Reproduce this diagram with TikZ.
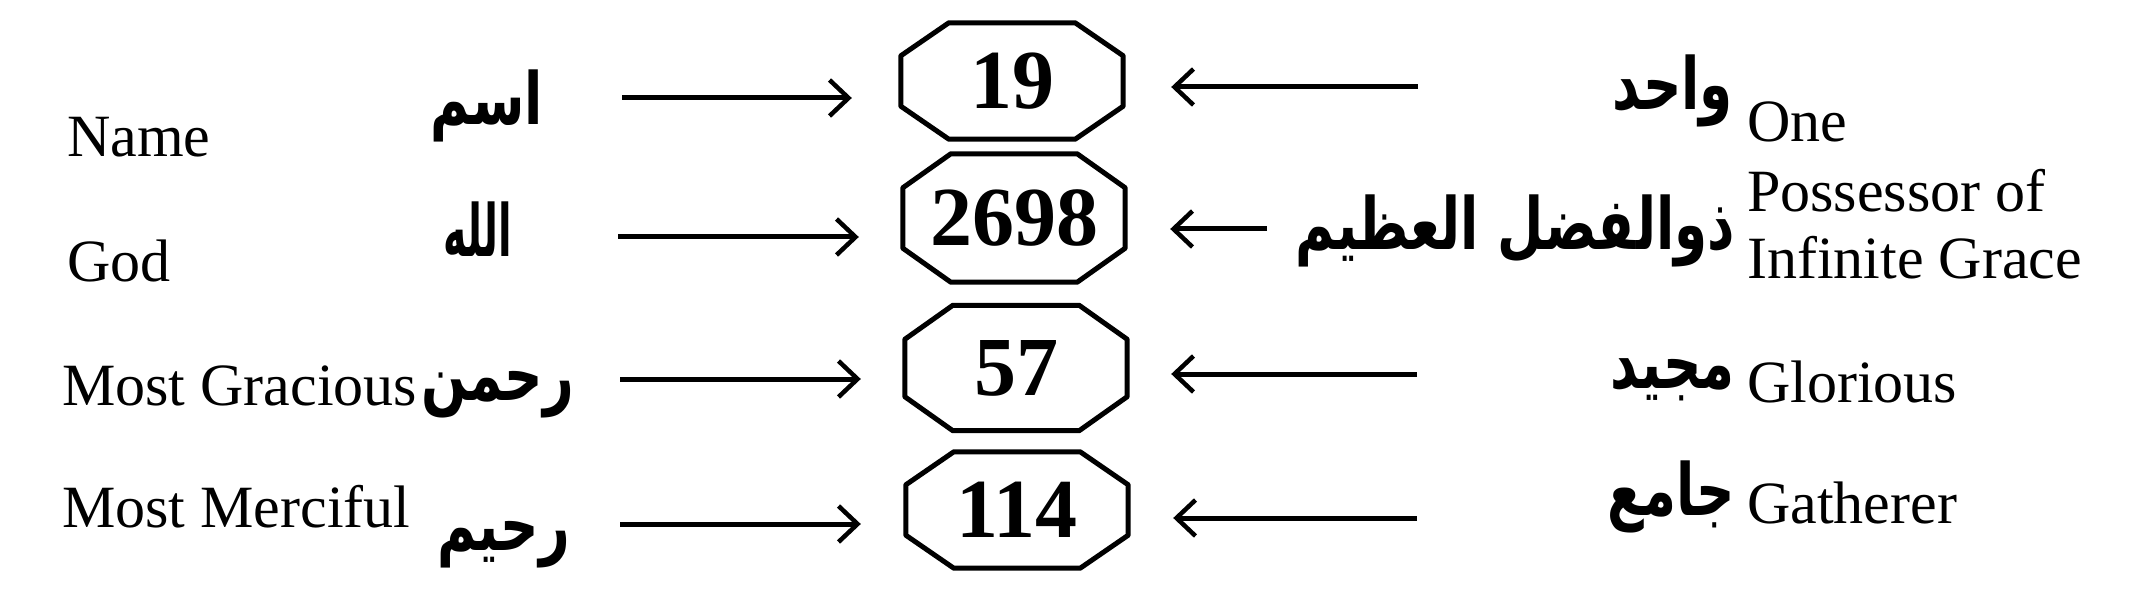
\documentclass[tikz,border=0pt]{standalone}
\usepackage{fontspec}
\setmainfont{Liberation Serif}
\newfontfamily\arfont[Script=Arabic,FakeStretch=0.74]{DejaVu Sans}
\newfontfamily\arnarrow[Script=Arabic,FakeStretch=0.55]{DejaVu Sans}
\TeXXeTstate=1
\usetikzlibrary{arrows.meta,calc}
\newcommand\octa[3]{%
  \draw[boxline] ([xshift=#2pt]#1.north west) -- ([xshift=-#2pt]#1.north east)
    -- ([yshift=-#3pt]#1.north east) -- ([yshift=#3pt]#1.south east)
    -- ([xshift=-#2pt]#1.south east) -- ([xshift=#2pt]#1.south west)
    -- ([yshift=#3pt]#1.south west) -- ([yshift=-#3pt]#1.north west) -- cycle;}
\tikzset{
  en/.style={font={\fontsize{60pt}{67pt}\selectfont}, inner sep=0pt},
  ar/.style={font={\arfont\bfseries\fontsize{72pt}{76pt}\selectfont}, inner sep=0pt},
  arn/.style={font={\arnarrow\bfseries\fontsize{72pt}{76pt}\selectfont}, inner sep=0pt},
  numbox/.style={font={\bfseries\fontsize{84pt}{90pt}\selectfont}, inner sep=0pt, minimum width=222pt},
  boxline/.style={line width=5pt, line join=round},
  rarr/.style={line width=5pt, -{Straight Barb[length=19pt,width=36pt,line width=4.5pt]}},
}
\begin{document}
\begin{tikzpicture}[x=1pt,y=-1pt]
\useasboundingbox (0,0) rectangle (2148,604);
\fill[white] (0,0) rectangle (2148,604);
% boxes
\node[numbox, minimum height=116pt] (b1) at (1012,81) {19};
\node[numbox, minimum height=128pt] (b2) at (1014,218) {2698};
\node[numbox, minimum height=125pt] (b3) at (1016,368) {57};
\node[numbox, minimum height=116pt] (b4) at (1017,510) {114};
\octa{b1}{48}{33}
\octa{b2}{48}{34}
\octa{b3}{48}{34}
\octa{b4}{48}{33}
% left English
\node[en, anchor=base west] (eName) at (67,157) {Name};
\node[en, anchor=base west] (eGod) at (67,282) {God};
\node[en, anchor=base west] (eGrac) at (62,405) {Most Gracious};
\node[en, anchor=base west] (eMerc) at (62,527) {Most Merciful};
% left Arabic
\node[ar, anchor=base east] (aIsm) at (543,125) {\beginR اسم\endR};
\node[arn, anchor=base east] (aAllah) at (512,257) {\beginR الله\endR};
\node[ar, anchor=base east] (aRahman) at (574,400) {\beginR رحمن\endR};
\node[ar, anchor=base east] (aRahim) at (570,550) {\beginR رحيم\endR};
% right Arabic
\node[ar, anchor=base east] (aWahid) at (1733,110) {\beginR واحد\endR};
\node[ar, anchor=base east] (aDhu) at (1735,250) {\beginR ذوالفضل العظيم\endR};
\node[ar, anchor=base east] (aMajid) at (1735,388) {\beginR مجيد\endR};
\node[ar, anchor=base east] (aJami) at (1735,515) {\beginR جامع\endR};
% right English
\node[en, anchor=base west] (eOne) at (1747,142) {One};
\node[en, anchor=north west, align=left] (ePoss) at (1747,169) {Possessor of\\Infinite Grace};
\node[en, anchor=base west] (eGlor) at (1747,402) {Glorious};
\node[en, anchor=base west] (eGath) at (1747,523) {Gatherer};
% arrow start points
\coordinate (r1) at (622,98);
\coordinate (r2) at (618,237);
\coordinate (r3) at (620,379);
\coordinate (r4) at (620,524);
\coordinate (l1) at (1418,87);
\coordinate (l2) at (1267,229);
\coordinate (l3) at (1417,374);
\coordinate (l4) at (1417,518);
% arrows
\draw[rarr, shorten >=49pt] (r1) -- (r1 -| b1.west);
\draw[rarr, shorten >=44pt] (r2) -- (r2 -| b2.west);
\draw[rarr, shorten >=44pt] (r3) -- (r3 -| b3.west);
\draw[rarr, shorten >=45pt] (r4) -- (r4 -| b4.west);
\draw[rarr, shorten >=48pt] (l1) -- (l1 -| b1.east);
\draw[rarr, shorten >=45pt] (l2) -- (l2 -| b2.east);
\draw[rarr, shorten >=44pt] (l3) -- (l3 -| b3.east);
\draw[rarr, shorten >=45pt] (l4) -- (l4 -| b4.east);
\end{tikzpicture}
\end{document}
